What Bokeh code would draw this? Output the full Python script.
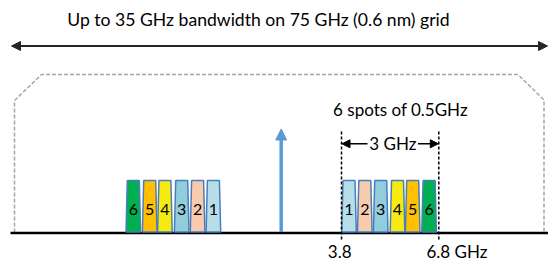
from bokeh.plotting import figure
from bokeh.models import Range1d, Arrow, NormalHead, ColumnDataSource
from bokeh.core.properties import value
from bokeh.embed import file_html
from bokeh.resources import INLINE

# ---- data (schematic coordinates, px of the diagram) ----
channel_labels = ["1", "2", "3", "4", "5", "6"]
channel_colors = ["#b7dee8", "#f9cbad", "#92cddc", "#f7ea10", "#ffc000", "#00b050"]
carrier_x = 280.7
right_centers = [348.5, 364.3, 380.2, 397.0, 412.2, 428.6]
left_centers = [2 * carrier_x - c for c in right_centers]
channel_top = 180.0
baseline_y = 232.5
band_edges = [341.0, 438.3]
band_labels = ["3.8", "6.8 GHz"]
envelope_x = [14, 14, 41, 517.5, 543.5, 543.5]
envelope_y = [232, 100, 74, 74, 99.5, 232]
title_text = "Up to 35 GHz bandwidth on 75 GHz (0.6 nm) grid"
spots_text = "6 spots of 0.5GHz"
width_text = "3 GHz"

FONT = value("Lato")

p = figure(width=548, height=260, output_backend="svg", toolbar_location=None,
           x_range=Range1d(0, 548), y_range=Range1d(260, 0),
           x_axis_type=None, y_axis_type=None, min_border=0)
p.grid.visible = False
p.outline_line_color = None
p.background_fill_color = "white"

# dashed envelope
p.line(envelope_x, envelope_y, line_color="#a6a6a6", line_width=1.5, line_dash="4 2")

# baseline
p.line([10, 548], [baseline_y, baseline_y], line_color="black", line_width=2.5)

# channels (trapezoids)
def trap(c):
    return [c - 7.3, c - 6.0, c + 6.0, c + 7.3], [baseline_y - 1, channel_top, channel_top, baseline_y - 1]

xs, ys, cols, lx, labs = [], [], [], [], []
for centers in (right_centers, left_centers):
    for c, col, lab in zip(centers, channel_colors, channel_labels):
        tx, ty = trap(c)
        xs.append(tx); ys.append(ty); cols.append(col)
        lx.append(c); labs.append(lab)
src = ColumnDataSource(dict(xs=xs, ys=ys, color=cols))
p.patches("xs", "ys", source=src, fill_color="color", line_color="#4a7ebb", line_width=1.5)
p.text(x=lx, y=[208.7] * len(lx), text=labs, text_font=FONT, text_font_size="16px",
       text_align="center", text_baseline="middle", text_color="black")

# carrier arrow
p.add_layout(Arrow(end=NormalHead(size=11, fill_color="#5b9bd5", line_color="#5b9bd5", line_width=1),
                   x_start=carrier_x, y_start=baseline_y - 1, x_end=carrier_x, y_end=128.5,
                   line_color="#5b9bd5", line_width=3.5))

# top double arrow
p.add_layout(Arrow(start=NormalHead(size=9, fill_color="#262626", line_color="#262626", line_width=1),
                   end=NormalHead(size=9, fill_color="#262626", line_color="#262626", line_width=1),
                   x_start=11, y_start=45.5, x_end=547, y_end=45.5,
                   line_color="#262626", line_width=1.8))

# band edges dashed
for bx in band_edges:
    p.line([bx, bx], [131, 241], line_color="black", line_width=1.5, line_dash="3 2")

# 3 GHz arrows
p.add_layout(Arrow(end=NormalHead(size=8, fill_color="black", line_color="black", line_width=1),
                   x_start=367, y_start=143.3, x_end=band_edges[0] + 0.5, y_end=143.3,
                   line_color="black", line_width=1.5))
p.add_layout(Arrow(end=NormalHead(size=8, fill_color="black", line_color="black", line_width=1),
                   x_start=417.5, y_start=143.3, x_end=band_edges[1] - 0.5, y_end=143.3,
                   line_color="black", line_width=1.5))

# texts
p.text(x=[258], y=[19.3], text=[title_text], text_font=FONT, text_font_size="17.6px",
       text_align="center", text_baseline="middle", text_color="black")
p.text(x=[400], y=[109.3], text=[spots_text], text_font=FONT, text_font_size="17px",
       text_align="center", text_baseline="middle", text_color="black")
p.text(x=[392.3], y=[143], text=[width_text], text_font=FONT, text_font_size="17px",
       text_align="center", text_baseline="middle", text_color="black")
p.text(x=[339.2], y=[250.5], text=[band_labels[0]], text_font=FONT, text_font_size="17px",
       text_align="center", text_baseline="middle", text_color="black")
p.text(x=[426], y=[250.5], text=[band_labels[1]], text_font=FONT, text_font_size="17px",
       text_align="left", text_baseline="middle", text_color="black")

open("out.html", "w").write(file_html(p, INLINE))
